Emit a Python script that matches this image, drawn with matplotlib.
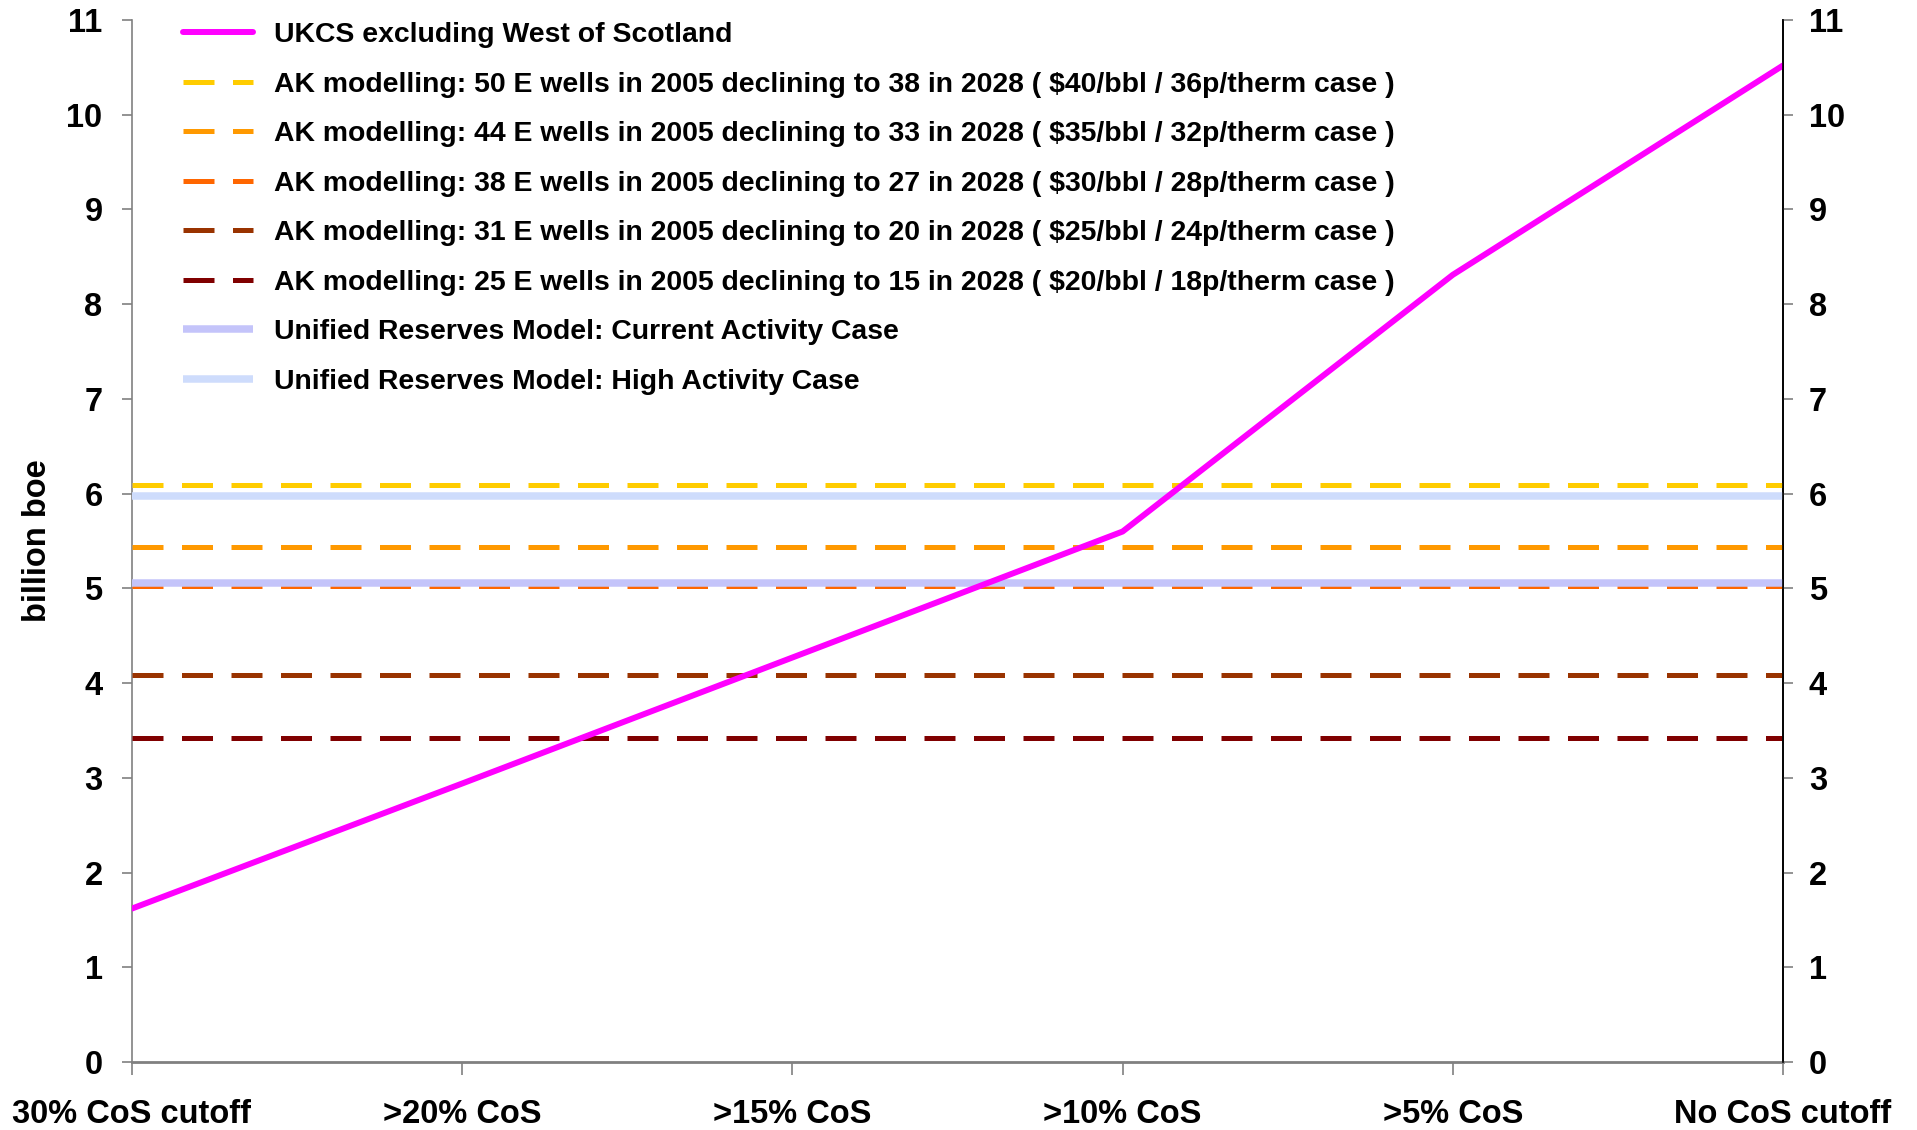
import matplotlib
matplotlib.use("Agg")
import matplotlib.pyplot as plt
import numpy as np

categories = ["30% CoS cutoff", ">20% CoS", ">15% CoS", ">10% CoS", ">5% CoS", "No CoS cutoff"]
ukcs_values = [1.62, 2.94, 4.27, 5.60, 8.31, 10.52]

ak_labels = [
    "AK modelling: 50 E wells in 2005 declining to 38 in 2028 ( $40/bbl / 36p/therm case )",
    "AK modelling: 44 E wells in 2005 declining to 33 in 2028 ( $35/bbl / 32p/therm case )",
    "AK modelling: 38 E wells in 2005 declining to 27 in 2028 ( $30/bbl / 28p/therm case )",
    "AK modelling: 31 E wells in 2005 declining to 20 in 2028 ( $25/bbl / 24p/therm case )",
    "AK modelling: 25 E wells in 2005 declining to 15 in 2028 ( $20/bbl / 18p/therm case )",
]
ak_values = [6.09, 5.44, 5.02, 4.09, 3.42]
ak_colors = ["#FFCC00", "#FF9900", "#FF6600", "#993300", "#800000"]

urm_labels = ["Unified Reserves Model: Current Activity Case",
              "Unified Reserves Model: High Activity Case"]
urm_values = [5.06, 5.98]
urm_colors = ["#C4C4FA", "#CEDCFC"]

yticks = list(range(0, 12))

plt.rcParams['font.family'] = ['Liberation Sans', 'DejaVu Sans']
plt.rcParams['font.weight'] = 'bold'

W, H = 1917, 1130
fig = plt.figure(figsize=(W / 100, H / 100), dpi=100)
L, R, B, T = 132, 1783, 1062, 20
ax = fig.add_axes([L / W, 1 - B / H, (R - L) / W, (B - T) / H])

x = np.arange(len(categories))
ax.plot(x, ukcs_values, color="#FF00FF", lw=4.3, zorder=5, solid_capstyle='round',
        label="UKCS excluding West of Scotland")
for lab, v, c in zip(ak_labels, ak_values, ak_colors):
    ax.plot(x, [v] * len(x), color=c, lw=3.6, dashes=(6.2, 3.7), zorder=3,
            label=lab, dash_capstyle='butt')
for lab, v, c in zip(urm_labels, urm_values, urm_colors):
    ax.plot(x, [v] * len(x), color=c, lw=5.4, zorder=4, label=lab, solid_capstyle='butt')

ax.set_xlim(0, 5)
ax.set_ylim(0, 11)
ax.set_xticks(x)
ax.set_xticklabels(categories, fontsize=23.5, fontweight='bold')
ax.set_yticks(yticks)
ax.set_yticklabels([str(t) for t in yticks], fontsize=23.5, fontweight='bold')
ax.tick_params(axis='x', direction='out', length=9, width=1.2, color='#808080', pad=17.7)
ax.tick_params(axis='y', direction='out', length=7.2, width=1.2, color='#808080', pad=14)

ax.spines['top'].set_visible(False)
ax.spines['left'].set_color('#808080')
ax.spines['left'].set_linewidth(1.2)
ax.spines['bottom'].set_color('#808080')
ax.spines['bottom'].set_linewidth(2.0)
ax.spines['right'].set_color('black')
ax.spines['right'].set_linewidth(1.2)

ax2 = ax.twinx()
ax2.set_ylim(0, 11)
ax2.set_yticks(yticks)
ax2.set_yticklabels([str(t) for t in yticks], fontsize=23.5, fontweight='bold')
ax2.tick_params(axis='y', direction='out', length=7.2, width=1.2, color='#808080', pad=11.5)
for s in ['top', 'left', 'bottom']:
    ax2.spines[s].set_visible(False)
ax2.spines['right'].set_color('black')
ax2.spines['right'].set_linewidth(1.2)

fig.text(38 / W, 1 - 541 / H, "billion boe", rotation=90, fontsize=23.5, fontweight='bold',
         ha='center', va='center')

leg = ax.legend(loc='upper left', bbox_to_anchor=((183 - L) / (R - L), 1.0 - 2 / (B - T)),
                frameon=False, fontsize=20.4, handlelength=2.47, handletextpad=0.74,
                labelspacing=0.83, borderpad=0, borderaxespad=0)
for t in leg.get_texts():
    t.set_fontweight('bold')
leg.set_zorder(10)

fig.savefig("out.png", dpi=100, facecolor='white')
